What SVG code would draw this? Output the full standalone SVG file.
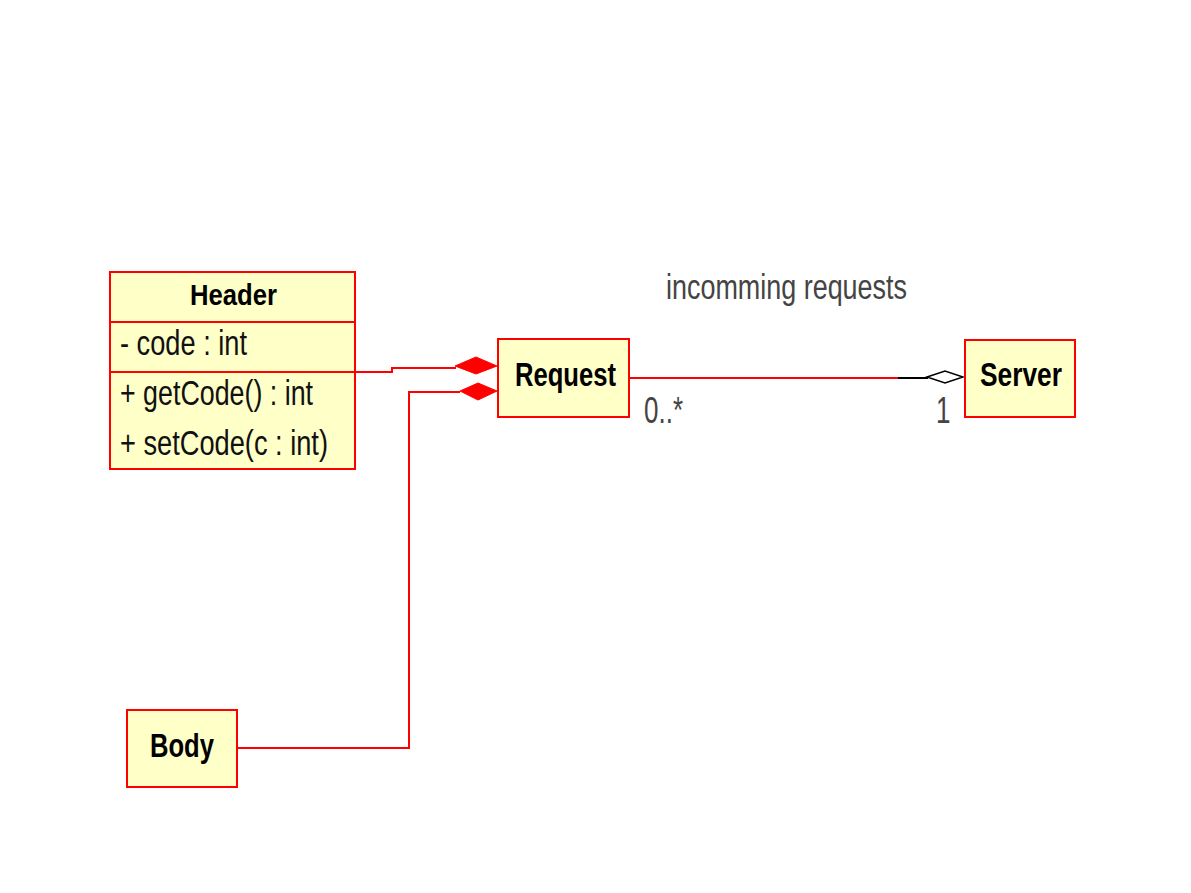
<svg xmlns="http://www.w3.org/2000/svg" width="1191" height="893" viewBox="0 0 1191 893">
<style>
.box{fill:#FFFFC8;stroke:#FF0000;stroke-width:2}
.div{stroke:#FF0000;stroke-width:2}
.title{font-family:"Liberation Sans",Arial,sans-serif;font-weight:bold;font-size:26px;fill:#000}
.mem{font-family:"Liberation Sans",Arial,sans-serif;font-size:26px;fill:#111}
.lbl{font-family:"Liberation Sans",Arial,sans-serif;font-size:26px;fill:#444}
.wire{fill:none;stroke:#FF0000;stroke-width:2}
.comp{fill:#FF0000;stroke:#FF0000;stroke-width:1}
.agg{fill:#fff;stroke:#000;stroke-width:1.5}
</style>
<rect width="1191" height="893" fill="#fff"/>
<g id="connectors">
<polyline class="wire" points="355,372 392,372 392,368 456,368"/>
<polygon class="comp" points="455,366 476,357 497,366 476,374"/>
<polyline class="wire" points="237,748 409,748 409,392 460,392"/>
<polygon class="comp" points="460,391 478,383 497,391 478,400"/>
<line class="wire" x1="629" y1="378" x2="898" y2="378"/>
<line x1="898" y1="378" x2="928" y2="378" stroke="#000" stroke-width="2"/>
<polygon class="agg" points="927,377 945,371 963,377 945,383"/>
<text class="lbl" transform="translate(666,299) scale(1,1.32)" textLength="241" lengthAdjust="spacingAndGlyphs">incomming requests</text>
<text class="lbl" transform="translate(644,423) scale(1,1.4)" textLength="39" lengthAdjust="spacingAndGlyphs">0..*</text>
<text class="lbl" transform="translate(936,423) scale(1,1.4)">1</text>
</g>
<g id="Header">
<rect class="box" x="110" y="272" width="245" height="197"/>
<line class="div" x1="110" y1="322" x2="355" y2="322"/>
<line class="div" x1="110" y1="372" x2="355" y2="372"/>
<text class="title" transform="translate(190,305) scale(1,1.15)" textLength="87" lengthAdjust="spacingAndGlyphs">Header</text>
<text class="mem" transform="translate(120,355) scale(1,1.35)" textLength="127" lengthAdjust="spacingAndGlyphs">- code : int</text>
<text class="mem" transform="translate(120,405) scale(1,1.35)" textLength="193" lengthAdjust="spacingAndGlyphs">+ getCode() : int</text>
<text class="mem" transform="translate(120,455) scale(1,1.35)" textLength="208" lengthAdjust="spacingAndGlyphs">+ setCode(c : int)</text>
</g>
<g id="Request">
<rect class="box" x="498" y="339" width="131" height="78"/>
<text class="title" transform="translate(515,386) scale(1,1.25)" textLength="101" lengthAdjust="spacingAndGlyphs">Request</text>
</g>
<g id="Server">
<rect class="box" x="965" y="340" width="110" height="77"/>
<text class="title" transform="translate(980,386) scale(1,1.25)" textLength="82" lengthAdjust="spacingAndGlyphs">Server</text>
</g>
<g id="Body">
<rect class="box" x="127" y="710" width="110" height="77"/>
<text class="title" transform="translate(150,757) scale(1,1.25)" textLength="64" lengthAdjust="spacingAndGlyphs">Body</text>
</g>
</svg>
